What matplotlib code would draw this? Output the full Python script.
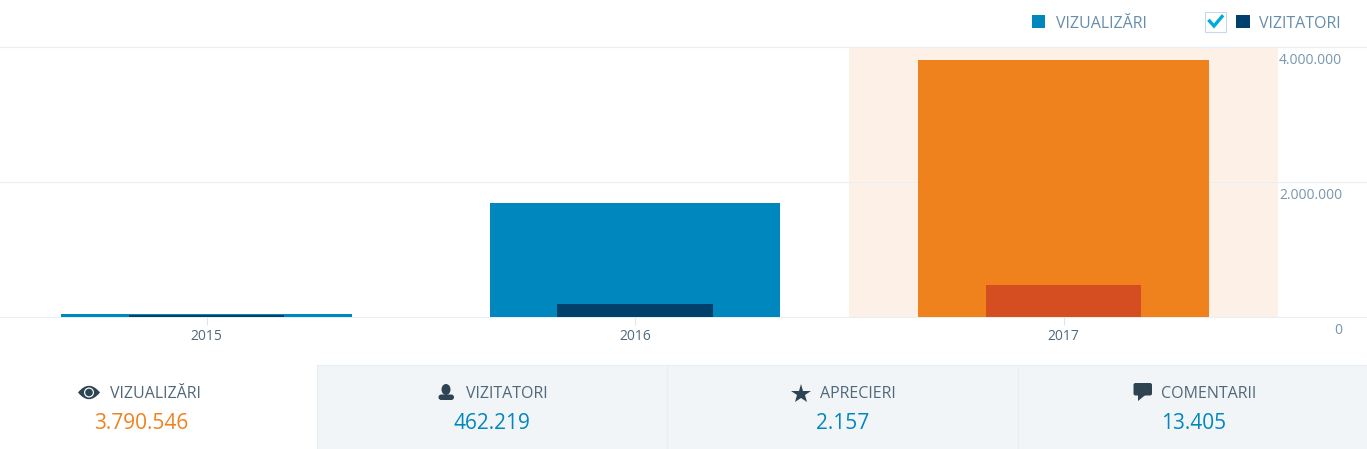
import matplotlib
matplotlib.use("Agg")
import matplotlib.pyplot as plt
import matplotlib.patches as mpatches
from matplotlib.path import Path
from matplotlib.transforms import ScaledTranslation

plt.rcParams['font.family'] = ['Open Sans', 'DejaVu Sans']

# chart values
years = ['2015', '2016', '2017']
views = [50000, 1690000, 3810000]
visitors = [30000, 192000, 475000]
y_ticks = [0, 2000000, 4000000]
y_labels = ['0', '2.000.000', '4.000.000']

# legend and bottom panel
legend_names = ['VIZUALIZĂRI', 'VIZITATORI']
stat_names = ['VIZUALIZĂRI', 'VIZITATORI', 'APRECIERI', 'COMENTARII']
stat_values = ['3.790.546', '462.219', '2.157', '13.405']

W, H = 1367, 449
fig = plt.figure(figsize=(W / 100, H / 100), dpi=100, facecolor='white')

# page layer in pixels for the panels and icons around the chart
page = fig.add_axes([0, 0, 1, 1])
page.set_xlim(0, W)
page.set_ylim(H, 0)
page.axis('off')

LINE = '#e9eef2'
LW = 0.75
page.add_patch(mpatches.Rectangle((317, 365), W - 317, H - 365, fc='#f1f5f8', ec='none'))
page.plot([317, W], [365, 365], color=LINE, lw=LW)
for x in [317, 667, 1018]:
    page.plot([x, x], [365, H], color=LINE, lw=LW)

# legend
page.add_patch(mpatches.Rectangle((1032, 15), 13, 13, fc='#0087be', ec='none'))
page.add_patch(mpatches.Rectangle((1205, 11.5), 20.5, 20.5, fc='white', ec='#c8d7e1', lw=LW))
page.plot([1209.5, 1214, 1222], [21, 26, 16.5], color='#00aadc', lw=2.4, solid_joinstyle='miter')
page.add_patch(mpatches.Rectangle((1236, 15), 14, 13, fc='#00406a', ec='none'))
for x, name in zip([1101, 1300], legend_names):
    page.text(x, 23.5, name, color='#668eaa', fontsize=11.5, ha='center', va='center')

# bottom panel texts
ICON = '#2e4453'
for x, name in zip([155, 506.5, 858, 1208.5], stat_names):
    page.text(x, 394, name, color='#50687a', fontsize=11.5, ha='center', va='center')
for x, val, col in zip([141, 492, 843, 1194], stat_values,
                       ['#f0821e', '#0087be', '#0087be', '#0087be']):
    page.text(x, 423.5, val, color=col, fontsize=15, ha='center', va='center')

# eye icon
eye = Path([(78, 392.5), (89, 379), (100, 392.5), (89, 406), (78, 392.5)],
           [Path.MOVETO, Path.CURVE3, Path.CURVE3, Path.CURVE3, Path.CURVE3])
page.add_patch(mpatches.PathPatch(eye, fc=ICON, ec='none'))
page.add_patch(mpatches.Circle((89, 392.5), 5.0, fc='white', ec='none'))
page.add_patch(mpatches.Circle((89, 392.5), 3.8, fc=ICON, ec='none'))

# person icon
page.add_patch(mpatches.Ellipse((446, 389.5), 9, 11, fc=ICON, ec='none'))
page.add_patch(mpatches.FancyBboxPatch((438.5, 394.5), 15.5, 5.5, boxstyle='round,pad=0,rounding_size=2.7',
                                       fc=ICON, ec='none'))

# star icon
page.plot([801], [393.5], marker='*', ms=15, mfc=ICON, mec=ICON, mew=0)

# comment icon
page.add_patch(mpatches.FancyBboxPatch((1133.5, 383), 18.5, 12.5, boxstyle='round,pad=0,rounding_size=2',
                                       fc=ICON, ec='none'))
page.add_patch(mpatches.Polygon([(1138, 394.5), (1146, 394.5), (1138, 401)], fc=ICON, ec='none'))

# chart
ax = fig.add_axes([0, (H - 317) / H, 1, 270 / H])
ax.patch.set_alpha(0)
step = 428.5
x_centers = range(len(years))
ax.set_xlim(-206.5 / step, (W - 206.5) / step)
ax.set_ylim(0, 4000000)

bar_cols = ['#0087be', '#0087be', '#f0821e']
vis_cols = ['#00406a', '#00406a', '#d54e21']
ax.axvspan(1.5, 2.5, color='#fdf1e7', lw=0, zorder=0)
ax.bar(x_centers, views, width=0.679, color=bar_cols, zorder=3)
ax.bar(x_centers, visitors, width=0.362, color=vis_cols, zorder=4)

for s in ['left', 'right', 'bottom']:
    ax.spines[s].set_visible(False)
ax.spines['top'].set_color(LINE)
ax.spines['top'].set_linewidth(LW)
ax.axhline(0, color=LINE, lw=LW, zorder=2, clip_on=False)
ax.yaxis.grid(True, color=LINE, lw=LW, zorder=1)
ax.set_axisbelow(True)

ax.set_xticks(list(x_centers))
ax.set_xticklabels(years)
ax.tick_params(axis='x', length=6, width=LW, color='#dde4ea', labelcolor='#50687a',
               labelsize=10, pad=3)
ax.yaxis.tick_right()
ax.set_yticks(y_ticks)
ax.set_yticklabels(y_labels)
ax.tick_params(axis='y', length=0, labelcolor='#7896ae', labelsize=10, pad=-18)
shift = ScaledTranslation(0, -4.3 / 72, fig.dpi_scale_trans)
for lab in ax.get_yticklabels():
    lab.set_ha('right')
    lab.set_va('top')
    lab.set_transform(lab.get_transform() + shift)

fig.savefig('out.png', dpi=100)
